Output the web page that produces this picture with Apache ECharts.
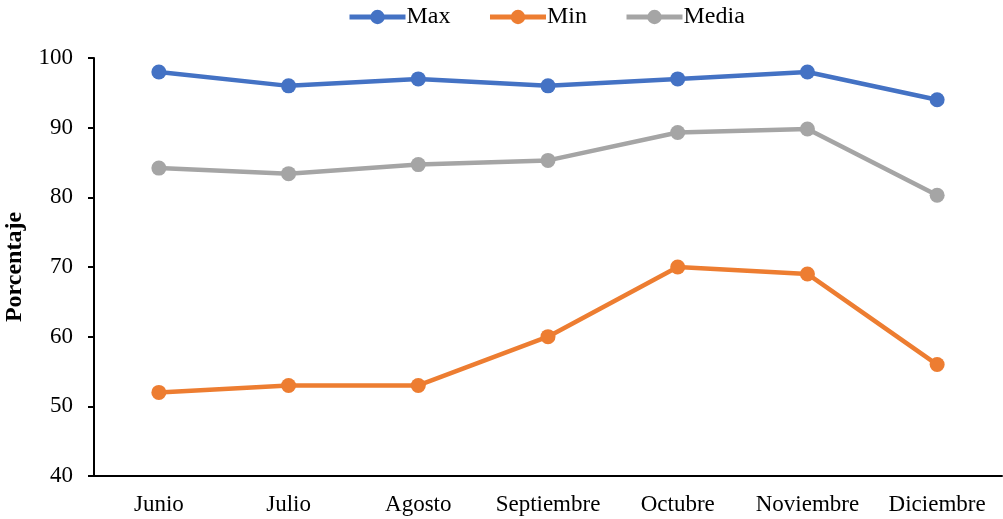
<!DOCTYPE html>
<html><head><meta charset="utf-8">
<script src="https://cdn.jsdelivr.net/npm/echarts@6/dist/echarts.min.js"></script>
<style>html,body{margin:0;padding:0;background:#fff}#c{width:1003px;height:519px}</style>
</head><body><div id="c"></div>
<script>
const categories = ['Junio','Julio','Agosto','Septiembre','Octubre','Noviembre','Diciembre'];
const maxValues = [98, 96, 97, 96, 97, 98, 94];
const minValues = [52, 53, 53, 60, 70, 69, 56];
const mediaValues = [84.2, 83.4, 84.7, 85.3, 89.3, 89.8, 80.3];
const yTicks = {min: 40, max: 100, interval: 10};

const font = 'Liberation Serif, Times New Roman, serif';
function s(name, data, color) {
  return {name, type: 'line', data, symbol: 'circle', symbolSize: 15,
    lineStyle: {width: 4.5, color}, itemStyle: {color}, color};
}
const chart = echarts.init(document.getElementById('c'));
chart.setOption({
  animation: false,
  legend: {top: 0, left: 342, itemWidth: 56, itemHeight: 18, itemGap: 37,
    lineStyle: {width: 5}, itemStyle: {borderWidth: 0},
    textStyle: {fontFamily: font, fontSize: 24, color: '#000', padding: [0,0,0,-4]},
    data: ['Max','Min','Media']},
  grid: {left: 94, right: 1, top: 58, bottom: 43, outerBoundsMode: 'none', containLabel: false},
  xAxis: {type: 'category', data: categories, boundaryGap: true,
    axisLine: {lineStyle: {color: '#000', width: 2}},
    axisTick: {alignWithLabel: true, length: 6, lineStyle: {color: '#000', width: 2}},
    axisLabel: {interval: 0, fontFamily: font, fontSize: 23, color: '#000', margin: 17}},
  yAxis: {type: 'value', min: yTicks.min, max: yTicks.max, interval: yTicks.interval,
    name: 'Porcentaje', nameLocation: 'middle', nameGap: 67,
    nameTextStyle: {fontFamily: font, fontSize: 24, fontWeight: 'bold', color: '#000'},
    axisLine: {show: true, lineStyle: {color: '#000', width: 2}},
    axisTick: {show: true, length: 6, lineStyle: {color: '#000', width: 2}},
    splitLine: {show: false},
    axisLabel: {fontFamily: font, fontSize: 23, color: '#000', margin: 21}},
  series: [s('Max', maxValues, '#4472C4'), s('Min', minValues, '#ED7D31'), s('Media', mediaValues, '#A5A5A5')]
});
</script></body></html>
